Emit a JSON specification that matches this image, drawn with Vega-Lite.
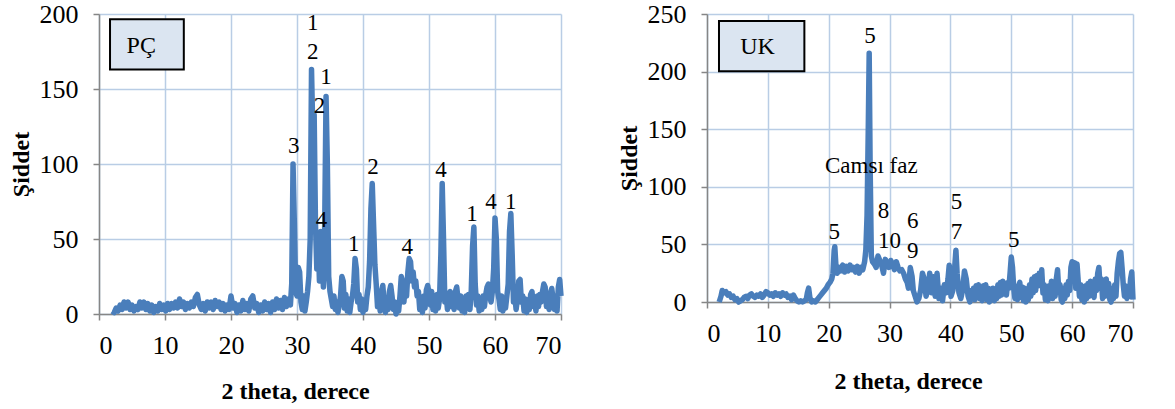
{
  "$schema": "https://vega.github.io/schema/vega-lite/v6.json",
  "padding": {"top": 1, "left": 9, "right": 0, "bottom": 0},
  "spacing": 53,
  "config": {
    "view": {"stroke": null},
    "font": "Liberation Serif",
    "axis": {
      "labelFont": "Liberation Serif", "labelFontSize": 26, "labelColor": "#000000",
      "titleFont": "Liberation Serif", "titleFontSize": 24, "titleFontWeight": "bold", "titleColor": "#000000",
      "domainColor": "#868686", "domainWidth": 1.5, "tickColor": "#868686", "tickWidth": 1.5, "tickSize": 6,
      "gridColor": "#b9cde5", "gridWidth": 1.5
    },
    "axisY": {"labelPadding": 15, "labelFont": "Liberation Serif", "titleFont": "Liberation Serif"},
    "axisX": {"labelPadding": 12, "labelFont": "Liberation Serif", "titleFont": "Liberation Serif"}
  },
  "datasets": {
    "pc": [
      {"x":2.0,"y":2},{"x":2.3,"y":1},{"x":2.6,"y":4},{"x":2.9,"y":2},{"x":3.2,"y":6},{"x":3.5,"y":3},{"x":3.8,"y":8},{"x":4.1,"y":4},{"x":4.4,"y":8},{"x":4.7,"y":3},
      {"x":5.0,"y":6},{"x":5.3,"y":2},{"x":5.6,"y":5},{"x":5.9,"y":3},{"x":6.2,"y":8},{"x":6.5,"y":4},{"x":6.8,"y":8},{"x":7.1,"y":3},{"x":7.4,"y":7},{"x":7.7,"y":2},
      {"x":8.0,"y":6},{"x":8.3,"y":1},{"x":8.6,"y":5},{"x":8.9,"y":2},{"x":9.2,"y":7},{"x":9.5,"y":3},{"x":9.8,"y":6},{"x":10.1,"y":2},{"x":10.4,"y":7},{"x":10.7,"y":3},
      {"x":11.0,"y":7},{"x":11.3,"y":4},{"x":11.6,"y":8},{"x":11.9,"y":4},{"x":12.2,"y":10},{"x":12.5,"y":5},{"x":12.8,"y":8},{"x":13.1,"y":3},{"x":13.4,"y":7},{"x":13.7,"y":4},
      {"x":14.0,"y":8},{"x":14.3,"y":5},{"x":14.6,"y":11},{"x":14.9,"y":13},{"x":15.2,"y":6},{"x":15.5,"y":3},{"x":15.8,"y":7},{"x":16.1,"y":2},{"x":16.4,"y":8},{"x":16.7,"y":4},
      {"x":17.0,"y":8},{"x":17.3,"y":3},{"x":17.6,"y":9},{"x":17.9,"y":5},{"x":18.2,"y":8},{"x":18.5,"y":3},{"x":18.8,"y":7},{"x":19.1,"y":2},{"x":19.4,"y":6},{"x":19.7,"y":3},
      {"x":20.0,"y":12},{"x":20.3,"y":4},{"x":20.6,"y":7},{"x":20.9,"y":1},{"x":21.2,"y":6},{"x":21.5,"y":2},{"x":21.8,"y":9},{"x":22.1,"y":3},{"x":22.4,"y":7},{"x":22.7,"y":2},
      {"x":23.0,"y":10},{"x":23.3,"y":12},{"x":23.6,"y":4},{"x":23.9,"y":7},{"x":24.2,"y":1},{"x":24.5,"y":6},{"x":24.8,"y":2},{"x":25.1,"y":8},{"x":25.4,"y":3},{"x":25.7,"y":7},
      {"x":26.0,"y":1},{"x":26.3,"y":8},{"x":26.6,"y":3},{"x":26.9,"y":10},{"x":27.2,"y":4},{"x":27.5,"y":9},{"x":27.8,"y":3},{"x":28.1,"y":11},{"x":28.4,"y":5},{"x":28.7,"y":10},
      {"x":29.0,"y":6},{"x":29.2,"y":20},{"x":29.4,"y":100},{"x":29.6,"y":60},{"x":29.8,"y":15},{"x":30.0,"y":12},{"x":30.2,"y":31},{"x":30.4,"y":28},{"x":30.6,"y":8},{"x":30.8,"y":3},
      {"x":31.0,"y":12},{"x":31.2,"y":2},{"x":31.4,"y":8},{"x":31.6,"y":15},{"x":31.8,"y":25},{"x":32.0,"y":50},{"x":32.2,"y":163},{"x":32.4,"y":120},{"x":32.6,"y":133},{"x":32.8,"y":60},
      {"x":33.0,"y":30},{"x":33.2,"y":52},{"x":33.4,"y":22},{"x":33.6,"y":55},{"x":33.8,"y":40},{"x":34.0,"y":18},{"x":34.2,"y":60},{"x":34.4,"y":145},{"x":34.6,"y":100},{"x":34.8,"y":25},
      {"x":35.0,"y":15},{"x":35.2,"y":10},{"x":35.4,"y":5},{"x":35.6,"y":12},{"x":35.8,"y":3},{"x":36.0,"y":8},{"x":36.2,"y":1},{"x":36.4,"y":6},{"x":36.6,"y":12},{"x":36.8,"y":25},
      {"x":37.0,"y":22},{"x":37.2,"y":4},{"x":37.4,"y":13},{"x":37.6,"y":2},{"x":37.8,"y":10},{"x":38.0,"y":1},{"x":38.2,"y":8},{"x":38.4,"y":12},{"x":38.6,"y":20},{"x":38.8,"y":37},
      {"x":39.0,"y":30},{"x":39.2,"y":8},{"x":39.4,"y":13},{"x":39.6,"y":3},{"x":39.8,"y":10},{"x":40.0,"y":1},{"x":40.2,"y":8},{"x":40.4,"y":3},{"x":40.6,"y":12},{"x":40.8,"y":18},
      {"x":41.0,"y":35},{"x":41.2,"y":70},{"x":41.4,"y":87},{"x":41.6,"y":60},{"x":41.8,"y":33},{"x":42.0,"y":20},{"x":42.2,"y":5},{"x":42.4,"y":12},{"x":42.6,"y":2},{"x":42.8,"y":15},
      {"x":43.0,"y":19},{"x":43.2,"y":8},{"x":43.4,"y":1},{"x":43.6,"y":10},{"x":43.8,"y":3},{"x":44.0,"y":15},{"x":44.2,"y":19},{"x":44.4,"y":12},{"x":44.6,"y":3},{"x":44.8,"y":8},
      {"x":45.0,"y":0},{"x":45.2,"y":6},{"x":45.4,"y":2},{"x":45.6,"y":12},{"x":45.8,"y":25},{"x":46.0,"y":22},{"x":46.2,"y":8},{"x":46.4,"y":20},{"x":46.6,"y":12},{"x":46.8,"y":28},
      {"x":47.0,"y":37},{"x":47.2,"y":35},{"x":47.4,"y":22},{"x":47.6,"y":28},{"x":47.8,"y":18},{"x":48.0,"y":22},{"x":48.2,"y":12},{"x":48.4,"y":15},{"x":48.6,"y":3},{"x":48.8,"y":10},
      {"x":49.0,"y":1},{"x":49.2,"y":12},{"x":49.4,"y":4},{"x":49.6,"y":16},{"x":49.8,"y":19},{"x":50.0,"y":14},{"x":50.2,"y":6},{"x":50.4,"y":15},{"x":50.6,"y":3},{"x":50.8,"y":12},
      {"x":51.0,"y":2},{"x":51.2,"y":13},{"x":51.4,"y":4},{"x":51.6,"y":10},{"x":51.8,"y":40},{"x":52.0,"y":87},{"x":52.2,"y":50},{"x":52.4,"y":8},{"x":52.6,"y":12},{"x":52.8,"y":3},
      {"x":53.0,"y":13},{"x":53.2,"y":15},{"x":53.4,"y":5},{"x":53.6,"y":12},{"x":53.8,"y":3},{"x":54.0,"y":15},{"x":54.2,"y":18},{"x":54.4,"y":10},{"x":54.6,"y":4},{"x":54.8,"y":12},
      {"x":55.0,"y":2},{"x":55.2,"y":10},{"x":55.4,"y":1},{"x":55.6,"y":12},{"x":55.8,"y":4},{"x":56.0,"y":13},{"x":56.2,"y":3},{"x":56.4,"y":15},{"x":56.6,"y":45},{"x":56.8,"y":58},
      {"x":57.0,"y":20},{"x":57.2,"y":6},{"x":57.4,"y":12},{"x":57.6,"y":2},{"x":57.8,"y":10},{"x":58.0,"y":3},{"x":58.2,"y":12},{"x":58.4,"y":5},{"x":58.6,"y":13},{"x":58.8,"y":18},
      {"x":59.0,"y":20},{"x":59.2,"y":12},{"x":59.4,"y":8},{"x":59.6,"y":15},{"x":59.8,"y":30},{"x":60.0,"y":64},{"x":60.2,"y":50},{"x":60.4,"y":15},{"x":60.6,"y":10},{"x":60.8,"y":3},
      {"x":61.0,"y":12},{"x":61.2,"y":2},{"x":61.4,"y":10},{"x":61.6,"y":4},{"x":61.8,"y":12},{"x":62.0,"y":20},{"x":62.2,"y":55},{"x":62.4,"y":67},{"x":62.6,"y":40},{"x":62.8,"y":8},
      {"x":63.0,"y":12},{"x":63.2,"y":3},{"x":63.4,"y":10},{"x":63.6,"y":22},{"x":63.8,"y":23},{"x":64.0,"y":8},{"x":64.2,"y":12},{"x":64.4,"y":2},{"x":64.6,"y":10},{"x":64.8,"y":1},
      {"x":65.0,"y":8},{"x":65.2,"y":3},{"x":65.4,"y":13},{"x":65.6,"y":15},{"x":65.8,"y":5},{"x":66.0,"y":10},{"x":66.2,"y":2},{"x":66.4,"y":12},{"x":66.6,"y":5},{"x":66.8,"y":13},
      {"x":67.0,"y":8},{"x":67.2,"y":15},{"x":67.4,"y":20},{"x":67.6,"y":18},{"x":67.8,"y":5},{"x":68.0,"y":12},{"x":68.2,"y":3},{"x":68.4,"y":14},{"x":68.6,"y":17},{"x":68.8,"y":10},
      {"x":69.0,"y":3},{"x":69.2,"y":12},{"x":69.4,"y":2},{"x":69.6,"y":18},{"x":69.8,"y":23},{"x":70.0,"y":12}
    ],
    "uk": [
      {"x":2.0,"y":0},{"x":2.3,"y":5},{"x":2.5,"y":10},{"x":2.8,"y":8},{"x":3.1,"y":9},{"x":3.4,"y":6},{"x":3.7,"y":7},{"x":4.0,"y":4},{"x":4.3,"y":5},{"x":4.6,"y":2},
      {"x":4.9,"y":3},{"x":5.2,"y":0},{"x":5.5,"y":1},{"x":5.8,"y":2},{"x":6.1,"y":4},{"x":6.4,"y":5},{"x":6.7,"y":3},{"x":7.0,"y":6},{"x":7.3,"y":7},{"x":7.6,"y":5},
      {"x":7.9,"y":4},{"x":8.2,"y":6},{"x":8.5,"y":5},{"x":8.8,"y":7},{"x":9.1,"y":4},{"x":9.4,"y":6},{"x":9.7,"y":9},{"x":10.0,"y":8},{"x":10.3,"y":6},{"x":10.6,"y":7},
      {"x":10.9,"y":5},{"x":11.2,"y":8},{"x":11.5,"y":6},{"x":11.8,"y":7},{"x":12.1,"y":5},{"x":12.4,"y":8},{"x":12.7,"y":6},{"x":13.0,"y":7},{"x":13.3,"y":4},{"x":13.6,"y":5},
      {"x":13.9,"y":2},{"x":14.2,"y":6},{"x":14.5,"y":3},{"x":14.8,"y":1},{"x":15.1,"y":0},{"x":15.4,"y":1},{"x":15.7,"y":0},{"x":16.0,"y":1},{"x":16.3,"y":2},{"x":16.5,"y":8},
      {"x":16.7,"y":12},{"x":16.9,"y":4},{"x":17.2,"y":0},{"x":17.5,"y":1},{"x":17.8,"y":0},{"x":18.1,"y":2},{"x":18.4,"y":4},{"x":18.7,"y":6},{"x":19.0,"y":8},{"x":19.3,"y":10},
      {"x":19.6,"y":12},{"x":19.9,"y":15},{"x":20.2,"y":17},{"x":20.5,"y":20},{"x":20.7,"y":25},{"x":20.9,"y":45},{"x":21.0,"y":48},{"x":21.2,"y":30},{"x":21.4,"y":25},{"x":21.7,"y":30},
      {"x":22.0,"y":27},{"x":22.3,"y":32},{"x":22.6,"y":26},{"x":22.9,"y":31},{"x":23.2,"y":27},{"x":23.5,"y":32},{"x":23.8,"y":28},{"x":24.1,"y":30},{"x":24.4,"y":26},{"x":24.7,"y":31},
      {"x":25.0,"y":25},{"x":25.3,"y":30},{"x":25.6,"y":28},{"x":25.9,"y":35},{"x":26.1,"y":45},{"x":26.3,"y":75},{"x":26.5,"y":150},{"x":26.65,"y":216},{"x":26.8,"y":120},{"x":27.0,"y":40},
      {"x":27.2,"y":35},{"x":27.5,"y":33},{"x":27.8,"y":30},{"x":28.1,"y":40},{"x":28.4,"y":36},{"x":28.7,"y":32},{"x":29.0,"y":25},{"x":29.3,"y":37},{"x":29.6,"y":33},{"x":29.9,"y":30},
      {"x":30.2,"y":36},{"x":30.5,"y":33},{"x":30.8,"y":28},{"x":31.1,"y":35},{"x":31.4,"y":30},{"x":31.7,"y":27},{"x":32.0,"y":28},{"x":32.3,"y":25},{"x":32.6,"y":20},{"x":32.9,"y":17},
      {"x":33.1,"y":12},{"x":33.4,"y":30},{"x":33.7,"y":22},{"x":33.9,"y":10},{"x":34.2,"y":5},{"x":34.5,"y":0},{"x":34.8,"y":3},{"x":35.1,"y":10},{"x":35.4,"y":25},{"x":35.7,"y":20},
      {"x":36.0,"y":5},{"x":36.3,"y":12},{"x":36.6,"y":25},{"x":36.9,"y":8},{"x":37.2,"y":22},{"x":37.5,"y":5},{"x":37.8,"y":25},{"x":38.1,"y":3},{"x":38.4,"y":12},{"x":38.7,"y":1},
      {"x":39.0,"y":15},{"x":39.3,"y":8},{"x":39.6,"y":20},{"x":39.8,"y":32},{"x":40.1,"y":5},{"x":40.4,"y":10},{"x":40.7,"y":30},{"x":40.9,"y":45},{"x":41.1,"y":25},{"x":41.4,"y":8},
      {"x":41.7,"y":3},{"x":42.0,"y":10},{"x":42.3,"y":27},{"x":42.6,"y":20},{"x":42.9,"y":5},
      {"x":43.2,"y":0},{"x":43.4,"y":10},{"x":43.6,"y":3},{"x":43.8,"y":12},{"x":44.0,"y":2},{"x":44.2,"y":14},{"x":44.4,"y":4},{"x":44.6,"y":15},{"x":44.8,"y":3},
      {"x":45.0,"y":12},{"x":45.2,"y":1},{"x":45.4,"y":14},{"x":45.6,"y":4},{"x":45.8,"y":15},{"x":46.0,"y":2},{"x":46.2,"y":12},{"x":46.4,"y":0},{"x":46.6,"y":11},{"x":46.8,"y":3},
      {"x":47.0,"y":12},{"x":47.2,"y":1},{"x":47.4,"y":10},{"x":47.6,"y":3},{"x":47.8,"y":15},{"x":48.0,"y":5},{"x":48.2,"y":17},{"x":48.4,"y":6},{"x":48.6,"y":18},{"x":48.8,"y":8},
      {"x":49.0,"y":16},{"x":49.2,"y":6},{"x":49.4,"y":17},{"x":49.6,"y":12},{"x":49.8,"y":25},{"x":50.0,"y":39},{"x":50.2,"y":30},{"x":50.4,"y":12},{"x":50.6,"y":3},{"x":50.8,"y":10},
      {"x":51.0,"y":2},{"x":51.2,"y":14},{"x":51.4,"y":17},{"x":51.6,"y":4},{"x":51.8,"y":13},{"x":52.0,"y":1},{"x":52.2,"y":12},{"x":52.4,"y":0},{"x":52.6,"y":10},{"x":52.8,"y":2},
      {"x":53.0,"y":15},{"x":53.2,"y":5},{"x":53.4,"y":20},{"x":53.6,"y":8},{"x":53.8,"y":22},{"x":54.0,"y":10},{"x":54.2,"y":23},{"x":54.4,"y":14},{"x":54.6,"y":25},{"x":54.8,"y":18},
      {"x":55.0,"y":28},{"x":55.2,"y":8},{"x":55.4,"y":15},{"x":55.6,"y":2},{"x":55.8,"y":12},{"x":56.0,"y":1},{"x":56.2,"y":14},{"x":56.4,"y":4},{"x":56.6,"y":18},{"x":56.8,"y":3},
      {"x":57.0,"y":15},{"x":57.2,"y":5},{"x":57.4,"y":20},{"x":57.6,"y":28},{"x":57.8,"y":10},{"x":58.0,"y":15},{"x":58.2,"y":2},{"x":58.4,"y":0},{"x":58.6,"y":12},{"x":58.8,"y":3},
      {"x":59.0,"y":15},{"x":59.2,"y":6},{"x":59.4,"y":18},{"x":59.6,"y":10},{"x":59.8,"y":30},{"x":60.0,"y":35},{"x":60.2,"y":20},{"x":60.4,"y":34},{"x":60.6,"y":12},{"x":60.8,"y":33},
      {"x":61.0,"y":18},{"x":61.2,"y":5},{"x":61.4,"y":15},{"x":61.6,"y":2},{"x":61.8,"y":12},{"x":62.0,"y":0},{"x":62.2,"y":14},{"x":62.4,"y":3},{"x":62.6,"y":16},{"x":62.8,"y":5},
      {"x":63.0,"y":18},{"x":63.2,"y":6},{"x":63.4,"y":17},{"x":63.6,"y":4},{"x":63.8,"y":20},{"x":64.0,"y":10},{"x":64.2,"y":25},{"x":64.4,"y":30},{"x":64.6,"y":12},{"x":64.8,"y":20},
      {"x":65.0,"y":3},{"x":65.2,"y":18},{"x":65.4,"y":5},{"x":65.6,"y":20},{"x":65.8,"y":8},{"x":66.0,"y":16},{"x":66.2,"y":2},{"x":66.4,"y":0},{"x":66.6,"y":12},{"x":66.8,"y":3},
      {"x":67.0,"y":15},{"x":67.2,"y":5},{"x":67.4,"y":25},{"x":67.6,"y":35},{"x":67.8,"y":42},{"x":68.0,"y":43},{"x":68.2,"y":30},{"x":68.4,"y":15},{"x":68.6,"y":5},{"x":68.8,"y":14},
      {"x":69.0,"y":3},{"x":69.2,"y":12},{"x":69.4,"y":5},{"x":69.6,"y":20},{"x":69.8,"y":26},{"x":70.0,"y":2}
    ],
    "pcLabels": [
      {"x":32.4,"y":194,"t":"1"},{"x":32.4,"y":175,"t":"2"},{"x":34.4,"y":158,"t":"1"},{"x":33.4,"y":139,"t":"2"},
      {"x":29.5,"y":112,"t":"3"},{"x":33.7,"y":63,"t":"4"},{"x":38.6,"y":47,"t":"1"},{"x":41.5,"y":98,"t":"2"},
      {"x":46.7,"y":45,"t":"4"},{"x":51.8,"y":96,"t":"4"},{"x":56.5,"y":67,"t":"1"},{"x":59.4,"y":75,"t":"4"},{"x":62.4,"y":75,"t":"1"}
    ],
    "ukLabels": [
      {"x":26.8,"y":231,"t":"5"},{"x":27.0,"y":118,"t":"Camsı faz"},{"x":29.0,"y":79,"t":"8"},{"x":30.0,"y":53,"t":"10"},
      {"x":33.8,"y":70,"t":"6"},{"x":33.8,"y":44,"t":"9"},{"x":41.0,"y":87,"t":"5"},{"x":41.0,"y":61,"t":"7"},
      {"x":50.4,"y":54,"t":"5"},{"x":20.9,"y":61,"t":"5"}
    ],
    "pcBox": [{"x1":1.67,"x2":12.85,"y1":196.5,"y2":163,"xc":6.4,"yc":179,"t":"PÇ"}],
    "ukBox": [{"x1":1.97,"x2":16.0,"y1":244,"y2":200.3,"xc":8.3,"yc":221.5,"t":"UK"}]
  },
  "hconcat": [
    {
      "width": 462,
      "height": 300,
      "layer": [
        {
          "data": {"name": "pc"},
          "mark": {"type": "line", "color": "#4a7ebb", "strokeWidth": 5.5, "strokeJoin": "round"},
          "encoding": {
            "x": {"field": "x", "type": "quantitative", "scale": {"domain": [0, 70], "nice": false},
                  "axis": {"values": [0,10,20,30,40,50,60,70], "title": "2 theta,  derece", "titleX": 196, "titleY": 84, "titleBaseline": "alphabetic", "labelFont": "Liberation Serif", "titleFont": "Liberation Serif"}},
            "y": {"field": "y", "type": "quantitative", "scale": {"domain": [0, 200], "nice": false},
                  "axis": {"values": [0,50,100,150,200], "title": "Şiddet", "titlePadding": 6, "labelFont": "Liberation Serif", "titleFont": "Liberation Serif"}}
          }
        },
        {
          "data": {"name": "pcBox"},
          "mark": {"type": "rect", "fill": "#dbe5f1", "stroke": "#000000", "strokeWidth": 2},
          "encoding": {
            "x": {"field": "x1", "type": "quantitative"}, "x2": {"field": "x2"},
            "y": {"field": "y1", "type": "quantitative"}, "y2": {"field": "y2"}
          }
        },
        {
          "data": {"name": "pcBox"},
          "mark": {"type": "text", "font": "Liberation Serif", "fontSize": 24, "color": "#000000", "baseline": "middle", "align": "center"},
          "encoding": {
            "x": {"field": "xc", "type": "quantitative"},
            "y": {"field": "yc", "type": "quantitative"},
            "text": {"field": "t"}
          }
        },
        {
          "data": {"name": "pcLabels"},
          "mark": {"type": "text", "font": "Liberation Serif", "fontSize": 23, "color": "#000000", "baseline": "middle", "align": "center"},
          "encoding": {
            "x": {"field": "x", "type": "quantitative"},
            "y": {"field": "y", "type": "quantitative"},
            "text": {"field": "t"}
          }
        }
      ]
    },
    {
      "width": 426,
      "height": 288,
      "layer": [
        {
          "data": {"name": "uk"},
          "mark": {"type": "line", "color": "#4a7ebb", "strokeWidth": 5.5, "strokeJoin": "round"},
          "encoding": {
            "x": {"field": "x", "type": "quantitative", "scale": {"domain": [0, 70], "nice": false},
                  "axis": {"values": [0,10,20,30,40,50,60,70], "title": "2 theta,  derece", "titleX": 201, "titleY": 86, "titleBaseline": "alphabetic", "labelFont": "Liberation Serif", "titleFont": "Liberation Serif"}},
            "y": {"field": "y", "type": "quantitative", "scale": {"domain": [0, 250], "nice": false},
                  "axis": {"values": [0,50,100,150,200,250], "title": "Şiddet", "titlePadding": 6, "labelFont": "Liberation Serif", "titleFont": "Liberation Serif"}}
          }
        },
        {
          "data": {"name": "ukBox"},
          "mark": {"type": "rect", "fill": "#dbe5f1", "stroke": "#000000", "strokeWidth": 2},
          "encoding": {
            "x": {"field": "x1", "type": "quantitative"}, "x2": {"field": "x2"},
            "y": {"field": "y1", "type": "quantitative"}, "y2": {"field": "y2"}
          }
        },
        {
          "data": {"name": "ukBox"},
          "mark": {"type": "text", "font": "Liberation Serif", "fontSize": 24, "color": "#000000", "baseline": "middle", "align": "center"},
          "encoding": {
            "x": {"field": "xc", "type": "quantitative"},
            "y": {"field": "yc", "type": "quantitative"},
            "text": {"field": "t"}
          }
        },
        {
          "data": {"name": "ukLabels"},
          "mark": {"type": "text", "font": "Liberation Serif", "fontSize": 23, "color": "#000000", "baseline": "middle", "align": "center"},
          "encoding": {
            "x": {"field": "x", "type": "quantitative"},
            "y": {"field": "y", "type": "quantitative"},
            "text": {"field": "t"}
          }
        }
      ]
    }
  ]
}
